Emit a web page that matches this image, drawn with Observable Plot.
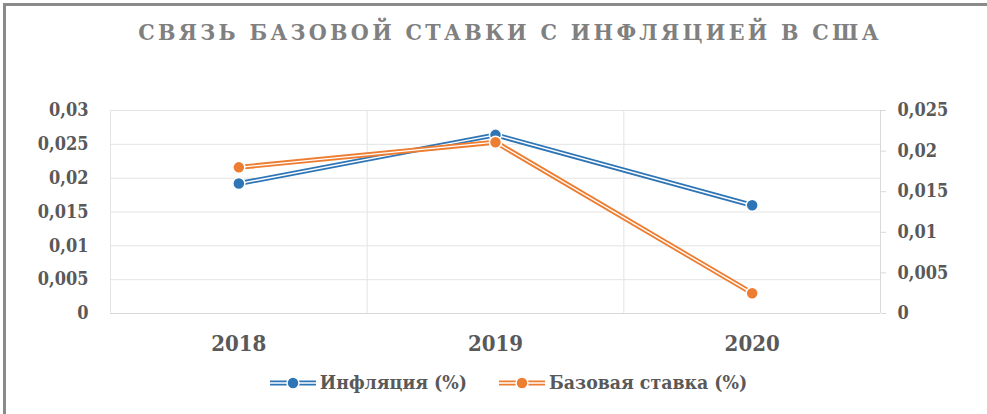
<!DOCTYPE html>
<html><head><meta charset="utf-8">
<script src="https://cdn.jsdelivr.net/npm/d3@7"></script>
<script src="https://cdn.jsdelivr.net/npm/@observablehq/plot@0.6"></script>
<style>
html,body{margin:0;padding:0;background:#fff;width:987px;height:414px;overflow:hidden;}
#frame{position:absolute;left:3px;top:3px;width:1100px;height:500px;border:3px solid #8a8a8a;box-sizing:border-box;}
#title{position:absolute;left:0;top:18px;width:1020px;text-align:center;font-family:"DejaVu Serif Condensed","DejaVu Serif",serif;font-stretch:condensed;font-weight:bold;font-size:23px;letter-spacing:3.3px;color:#808080;}
#chart{position:absolute;left:0;top:0;}
#legend{position:absolute;left:15px;top:371px;width:987px;display:flex;justify-content:center;gap:32px;font-family:"DejaVu Serif Condensed","DejaVu Serif",serif;font-stretch:condensed;font-weight:bold;font-size:19.3px;color:#595959;}
#legend span{display:flex;align-items:center;gap:4px;}
</style></head><body>
<div id="frame"></div>
<div id="title">СВЯЗЬ БАЗОВОЙ СТАВКИ С ИНФЛЯЦИЕЙ В США</div>
<div id="chart"></div>
<div id="legend"></div>
<script>
const years = ["2018", "2019", "2020"];
const inflation = [0.0192, 0.0264, 0.0160];
const baseRate = [0.0180, 0.0211, 0.0025];
const leftTicks = [0, 0.005, 0.01, 0.015, 0.02, 0.025, 0.03];
const rightTicks = [0, 0.005, 0.01, 0.015, 0.02, 0.025];
const seriesNames = ["Инфляция (%)", "Базовая ставка (%)"];
const colors = ["#2e75b6", "#ed7d31"];

const k = 0.03 / 0.025; // right axis -> left axis scale
const fmt = v => String(+v.toFixed(4)).replace(".", ",");

const infl = years.map((y, i) => ({x: i + 0.5, y: inflation[i]}));
const rate = years.map((y, i) => ({x: i + 0.5, y: baseRate[i] * k}));

const font = '"DejaVu Serif Condensed", "DejaVu Serif", serif';
const chart = Plot.plot({
  width: 987, height: 360,
  marginLeft: 110, marginRight: 107, marginTop: 110, marginBottom: 47,
  style: {fontFamily: font, fontStretch: "condensed", fontWeight: "bold", fontSize: "18px", color: "#595959", background: "transparent"},
  x: {domain: [0, 3]},
  y: {domain: [0, 0.03]},
  marks: [
    Plot.ruleY(leftTicks, {stroke: "#e4e4e4", strokeWidth: 1}),
    Plot.ruleX([0, 1, 2], {stroke: "#e4e4e4", strokeWidth: 1}),
    Plot.ruleY([0], {stroke: "#d9d9d9", strokeWidth: 1}),
    Plot.ruleX([3], {stroke: "#d9d9d9", strokeWidth: 1}),
    Plot.axisY({anchor: "left", ticks: leftTicks, tickSize: 0, tickPadding: 22, tickFormat: fmt, label: null, fontSize: 18, fontFamily: font}),
    Plot.axisY({anchor: "right", ticks: rightTicks.map(v => v * k), tickSize: 5, tickPadding: 12, stroke: "#d9d9d9", tickFormat: v => fmt(v / k), label: null, fontSize: 18, fontFamily: font}),
    Plot.axisX({ticks: [0.5, 1.5, 2.5], tickSize: 0, tickPadding: 22, tickFormat: v => years[Math.floor(v)], label: null, fontSize: 22, fontFamily: font}),
    Plot.line(infl, {x: "x", y: "y", stroke: colors[0], strokeWidth: 5}),
    Plot.line(infl, {x: "x", y: "y", stroke: "#fff", strokeWidth: 1.4}),
    Plot.line(rate, {x: "x", y: "y", stroke: colors[1], strokeWidth: 5}),
    Plot.line(rate, {x: "x", y: "y", stroke: "#fff", strokeWidth: 1.4}),
    Plot.dot(infl, {x: "x", y: "y", r: 6, fill: colors[0], stroke: "#fff", strokeWidth: 1.5}),
    Plot.dot(rate, {x: "x", y: "y", r: 6, fill: colors[1], stroke: "#fff", strokeWidth: 1.5})
  ]
});
document.getElementById("chart").appendChild(chart);

const leg = document.getElementById("legend");
seriesNames.forEach((name, i) => {
  const c = colors[i];
  const s = document.createElement("span");
  s.innerHTML = `<svg width="46" height="14"><line x1="0" x2="46" y1="7" y2="7" stroke="${c}" stroke-width="5"/><line x1="0" x2="46" y1="7" y2="7" stroke="#fff" stroke-width="1.4"/><circle cx="23" cy="7" r="6" fill="${c}" stroke="#fff" stroke-width="1.5"/></svg>${name}`;
  leg.appendChild(s);
});
</script>
</body></html>
